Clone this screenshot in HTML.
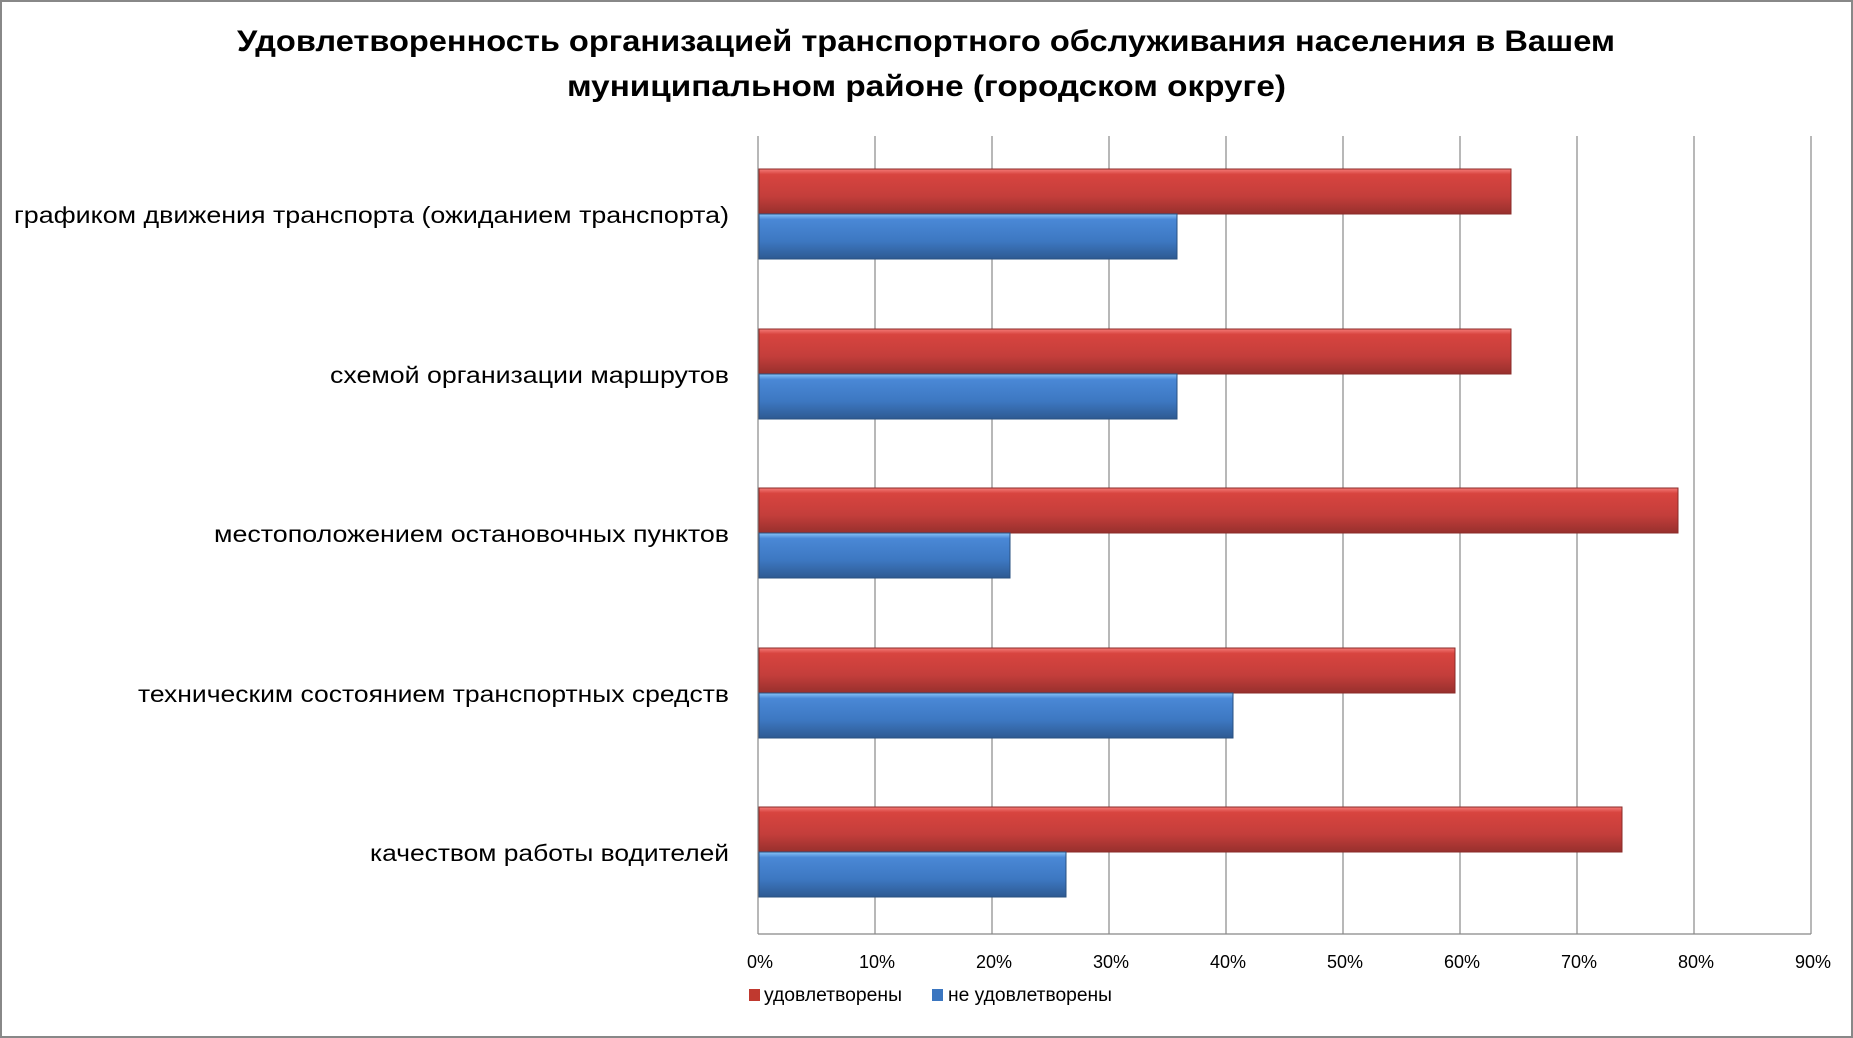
<!DOCTYPE html>
<html><head><meta charset="utf-8"><style>
html,body{margin:0;padding:0;background:#fff}
svg{display:block}
text{font-family:"Liberation Sans","DejaVu Sans",sans-serif}
</style></head><body>
<svg width="1853" height="1038" viewBox="0 0 1853 1038" xmlns="http://www.w3.org/2000/svg">
<defs>
<linearGradient id="r" x1="0" y1="0" x2="0" y2="1">
<stop offset="0" stop-color="#f47b78"/><stop offset="0.12" stop-color="#d8443f"/><stop offset="0.6" stop-color="#c43e3b"/><stop offset="1" stop-color="#97302d"/></linearGradient>
<linearGradient id="b" x1="0" y1="0" x2="0" y2="1">
<stop offset="0" stop-color="#8ac4f7"/><stop offset="0.12" stop-color="#4a88d6"/><stop offset="0.6" stop-color="#3d78c2"/><stop offset="1" stop-color="#2e5a92"/></linearGradient>
</defs>
<rect x="1" y="1" width="1851" height="1036" fill="#fff" stroke="#888" stroke-width="2"/>
<text x="237" y="51" textLength="1378" lengthAdjust="spacingAndGlyphs" font-size="30" font-weight="bold" fill="#000">Удовлетворенность организацией транспортного обслуживания населения в Вашем</text>
<text x="567" y="96" textLength="719" lengthAdjust="spacingAndGlyphs" font-size="30" font-weight="bold" fill="#000">муниципальном районе (городском округе)</text>
<g stroke="#888" stroke-width="1.2">
<line x1="758" y1="136" x2="758" y2="934"/>
<line x1="875" y1="136" x2="875" y2="934"/>
<line x1="992" y1="136" x2="992" y2="934"/>
<line x1="1109" y1="136" x2="1109" y2="934"/>
<line x1="1226" y1="136" x2="1226" y2="934"/>
<line x1="1343" y1="136" x2="1343" y2="934"/>
<line x1="1460" y1="136" x2="1460" y2="934"/>
<line x1="1577" y1="136" x2="1577" y2="934"/>
<line x1="1694" y1="136" x2="1694" y2="934"/>
<line x1="1811" y1="136" x2="1811" y2="934"/>
<line x1="758" y1="934" x2="1811" y2="934"/>
</g>
<g font-size="18" fill="#000" text-anchor="middle">
<text x="760" y="968">0%</text><text x="877" y="968">10%</text><text x="994" y="968">20%</text><text x="1111" y="968">30%</text><text x="1228" y="968">40%</text><text x="1345" y="968">50%</text><text x="1462" y="968">60%</text><text x="1579" y="968">70%</text><text x="1696" y="968">80%</text><text x="1813" y="968">90%</text>
</g>
<g font-size="23" fill="#000" lengthAdjust="spacingAndGlyphs">
<text x="14" y="223" textLength="715" lengthAdjust="spacingAndGlyphs">графиком движения транспорта (ожиданием транспорта)</text>
<text x="330" y="383" textLength="399" lengthAdjust="spacingAndGlyphs">схемой организации маршрутов</text>
<text x="214" y="542" textLength="515" lengthAdjust="spacingAndGlyphs">местоположением остановочных пунктов</text>
<text x="138" y="702" textLength="591" lengthAdjust="spacingAndGlyphs">техническим состоянием транспортных средств</text>
<text x="370" y="861" textLength="359" lengthAdjust="spacingAndGlyphs">качеством работы водителей</text>
</g>
<g stroke-width="1">
<rect x="759" y="169" width="752" height="45" fill="url(#r)" stroke="#8a2b28"/>
<rect x="759" y="214" width="418" height="45" fill="url(#b)" stroke="#2a5080"/>
<rect x="759" y="329" width="752" height="45" fill="url(#r)" stroke="#8a2b28"/>
<rect x="759" y="374" width="418" height="45" fill="url(#b)" stroke="#2a5080"/>
<rect x="759" y="488" width="919" height="45" fill="url(#r)" stroke="#8a2b28"/>
<rect x="759" y="533" width="251" height="45" fill="url(#b)" stroke="#2a5080"/>
<rect x="759" y="648" width="696" height="45" fill="url(#r)" stroke="#8a2b28"/>
<rect x="759" y="693" width="474" height="45" fill="url(#b)" stroke="#2a5080"/>
<rect x="759" y="807" width="863" height="45" fill="url(#r)" stroke="#8a2b28"/>
<rect x="759" y="852" width="307" height="45" fill="url(#b)" stroke="#2a5080"/>
</g>
<rect x="749" y="989" width="11" height="12" fill="#c0392f"/>
<text x="764" y="1001" font-size="19" textLength="138" lengthAdjust="spacingAndGlyphs" fill="#000">удовлетворены</text>
<rect x="932" y="989" width="11" height="12" fill="#3b76c0"/>
<text x="948" y="1001" font-size="19" textLength="164" lengthAdjust="spacingAndGlyphs" fill="#000">не удовлетворены</text>
</svg>
</body></html>
